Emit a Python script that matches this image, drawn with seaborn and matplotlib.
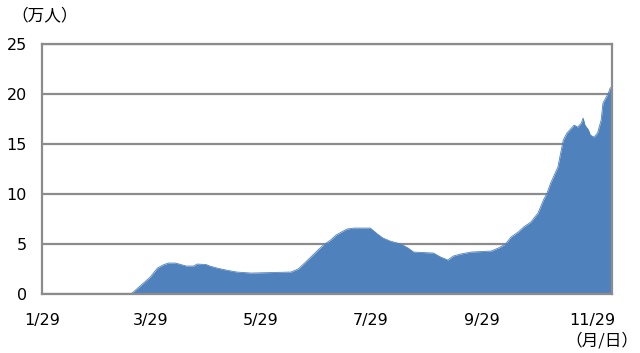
import matplotlib
matplotlib.use("Agg")
import matplotlib.pyplot as plt
import seaborn as sns
import pandas as pd

# ---- data (unit: 万人) ----
dates = [
    "2020-01-29", "2020-03-18", "2020-03-19", "2020-03-24", "2020-03-29", "2020-04-02",
    "2020-04-05", "2020-04-08", "2020-04-12", "2020-04-15", "2020-04-18", "2020-04-22",
    "2020-04-24", "2020-04-29", "2020-05-01", "2020-05-05", "2020-05-10", "2020-05-13",
    "2020-05-16", "2020-05-24", "2020-06-15", "2020-06-19", "2020-06-22", "2020-06-26",
    "2020-06-30", "2020-07-03", "2020-07-07", "2020-07-10", "2020-07-13", "2020-07-16",
    "2020-07-20", "2020-07-29", "2020-08-02", "2020-08-05", "2020-08-09", "2020-08-15",
    "2020-08-19", "2020-08-22", "2020-09-02", "2020-09-06", "2020-09-10", "2020-09-13",
    "2020-09-17", "2020-09-23", "2020-10-04", "2020-10-08", "2020-10-12", "2020-10-15",
    "2020-10-19", "2020-10-22", "2020-10-26", "2020-10-30", "2020-11-02", "2020-11-04",
    "2020-11-06", "2020-11-08", "2020-11-10", "2020-11-12", "2020-11-13", "2020-11-15",
    "2020-11-17", "2020-11-19", "2020-11-21", "2020-11-23", "2020-11-24", "2020-11-25",
    "2020-11-27", "2020-11-28", "2020-11-30", "2020-12-02", "2020-12-04", "2020-12-05",
    "2020-12-08", "2020-12-09", "2020-12-10",
]
values = [
    0.0, 0.0, 0.1, 0.9, 1.7, 2.6,
    2.9, 3.1, 3.1, 2.95, 2.8, 2.8,
    3.0, 2.95, 2.8, 2.6, 2.4, 2.3,
    2.2, 2.1, 2.2, 2.5, 3.0, 3.7,
    4.4, 4.9, 5.4, 5.9, 6.2, 6.5,
    6.6, 6.6, 6.0, 5.6, 5.3, 5.0,
    4.6, 4.2, 4.1, 3.7, 3.4, 3.8,
    4.0, 4.2, 4.3, 4.6, 5.0, 5.7,
    6.2, 6.7, 7.2, 8.1, 9.4, 10.1,
    11.1, 11.9, 12.7, 14.5, 15.4, 16.1,
    16.5, 16.9, 16.7, 17.1, 17.6, 16.9,
    16.4, 15.9, 15.7, 16.1, 17.4, 19.1,
    20.1, 20.6, 20.7,
]
x_tick_dates = ["2020-01-29", "2020-03-29", "2020-05-29", "2020-07-29", "2020-09-29", "2020-11-29"]
x_tick_labels = ["1/29", "3/29", "5/29", "7/29", "9/29", "11/29"]
y_ticks = [0, 5, 10, 15, 20, 25]
y_unit = "（万人）"
x_unit = "（月/日）"

# ---- style ----
sns.set_theme(style="white")
plt.rcParams["font.family"] = ["DejaVu Sans", "Noto Sans CJK JP"]

fill_color = "#4F81BD"
grid_color = "#8C8C8C"

fig = plt.figure(figsize=(6.4, 3.53), dpi=100)
ax = fig.add_axes([0.0656, 0.167, 0.8906, 0.708])

df = pd.DataFrame({"date": pd.to_datetime(dates), "value": values})
sns.lineplot(data=df, x="date", y="value", ax=ax, color=fill_color, linewidth=0.6)
ax.fill_between(df["date"], df["value"], color=fill_color, linewidth=0, zorder=1)

ax.set_xlim(pd.Timestamp("2020-01-29"), pd.Timestamp("2020-12-10"))
ax.set_ylim(0, 25)
ax.set_yticks(y_ticks)
ax.set_yticklabels([str(v) for v in y_ticks])
ax.set_xticks(pd.to_datetime(x_tick_dates))
ax.set_xticklabels(x_tick_labels)
ax.set_xlabel("")
ax.set_ylabel("")

ax.set_axisbelow(True)
ax.yaxis.grid(True, color=grid_color, linewidth=1.6)
ax.xaxis.grid(False)
for side in ["left", "right", "top", "bottom"]:
    ax.spines[side].set_visible(True)
    ax.spines[side].set_color(grid_color)
    ax.spines[side].set_linewidth(1.6)

ax.tick_params(axis="x", direction="in", length=4, width=1, color="#A0A0A0",
               pad=14, labelsize=11.5, labelcolor="#000000")
ax.tick_params(axis="y", length=0, pad=11, labelsize=11.5, labelcolor="#000000")

fig.text(0.018, 0.955, y_unit, family=["Noto Sans CJK JP", "DejaVu Sans"],
         fontsize=12, ha="left", va="center", color="#000000")
fig.text(0.997, 0.035, x_unit, family=["Noto Sans CJK JP", "DejaVu Sans"],
         fontsize=12, ha="right", va="center", color="#000000")

fig.savefig("out.png", dpi=100)
